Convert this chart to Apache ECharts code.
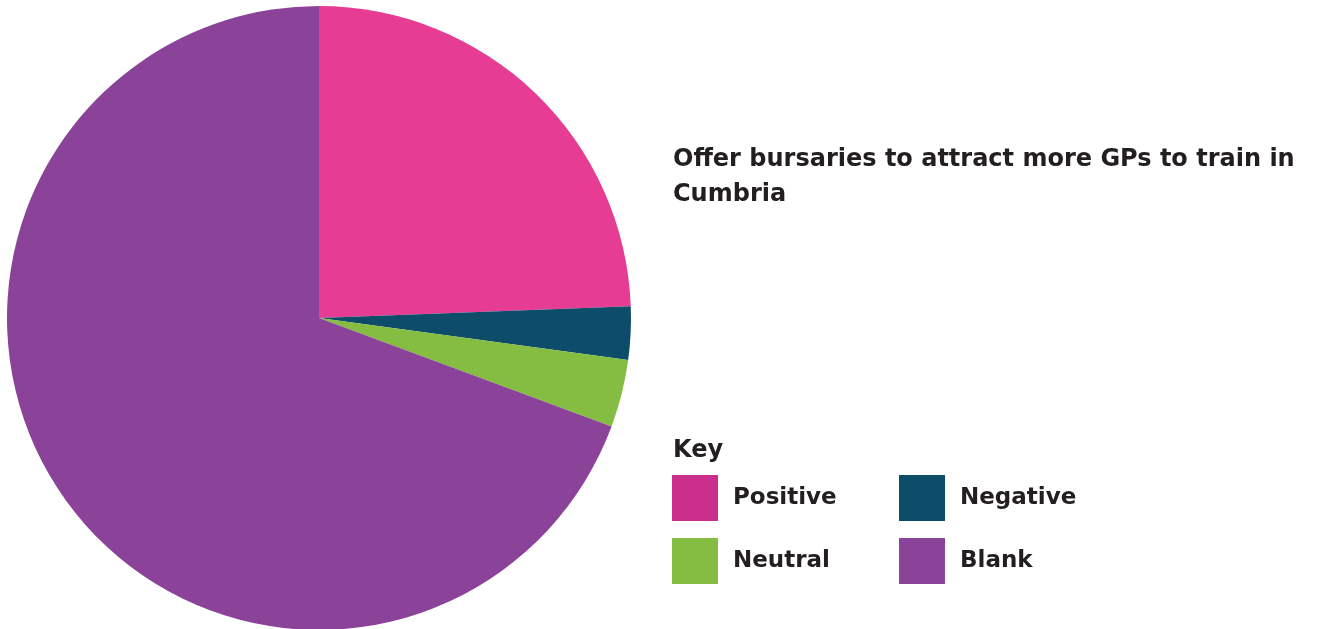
<!DOCTYPE html>
<html>
<head>
<meta charset="utf-8">
<script src="https://cdn.jsdelivr.net/npm/echarts@6/dist/echarts.min.js"></script>
<style>
html,body{margin:0;padding:0;background:#fff;}
#chart{width:1317px;height:629px;}
</style>
</head>
<body>
<div id="chart"></div>
<script>
// Survey responses for one proposal
const categories = ['Positive', 'Negative', 'Neutral', 'Blank'];
const shares = [24.4, 2.75, 3.5, 69.35];
const sliceColors = ['#e63c94', '#0d4d6a', '#84bd41', '#8a4398'];
const keyColors = ['#cb2f8e', '#0d4d6a', '#84bd41', '#8a4398'];
const titleText = 'Offer bursaries to attract more GPs to train in\nCumbria';

const FONT = '"DejaVu Sans", sans-serif';
const TEXT = '#231f20';

// key layout: two columns, two rows
const keyPos = [[672, 475], [899, 475], [672, 538], [899, 538]];
const legends = categories.map((name, i) => ({
  left: keyPos[i][0], top: keyPos[i][1],
  padding: 0,
  itemWidth: 46, itemHeight: 46,
  icon: 'rect',
  selectedMode: false,
  data: [{ name: name, itemStyle: { color: keyColors[i] } }],
  textStyle: { fontFamily: FONT, fontWeight: 'bold', fontSize: 23, color: TEXT, padding: [0, 0, 0, 10] }
}));

const chart = echarts.init(document.getElementById('chart'), null, { renderer: 'canvas' });
chart.setOption({
  animation: false,
  title: [{
    text: titleText,
    left: 673, top: 142,
    padding: 0,
    textStyle: { fontFamily: FONT, fontWeight: 'bold', fontSize: 24, lineHeight: 35, color: TEXT }
  }, {
    text: 'Key',
    left: 673, top: 439,
    padding: 0,
    textStyle: { fontFamily: FONT, fontWeight: 'bold', fontSize: 24, color: TEXT }
  }],
  legend: legends,
  series: [{
    type: 'pie',
    center: [319, 318],
    radius: 312,
    startAngle: 90,
    clockwise: true,
    label: { show: false },
    labelLine: { show: false },
    emphasis: { disabled: true },
    itemStyle: { borderWidth: 0 },
    data: categories.map((name, i) => ({ name: name, value: shares[i], itemStyle: { color: sliceColors[i] } }))
  }]
});
</script>
</body>
</html>
